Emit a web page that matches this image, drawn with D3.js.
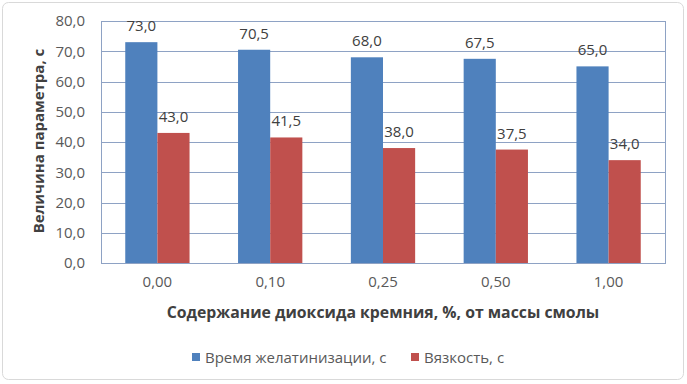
<!DOCTYPE html>
<html><head><meta charset="utf-8">
<script src="https://cdn.jsdelivr.net/npm/d3@7/dist/d3.min.js"></script>
<style>body{margin:0;background:#fff}svg{display:block}</style>
</head><body>
<svg id="c" width="687" height="384"></svg>
<script>
const categories = ["0,00","0,10","0,25","0,50","1,00"];
const seriesNames = ["Время желатинизации, с","Вязкость, с"];
const gelTime = [73.0, 70.5, 68.0, 67.5, 65.0];
const viscosity = [43.0, 41.5, 38.0, 37.5, 34.0];
const yTicks = [0,10,20,30,40,50,60,70,80];
const colors = ["#4f81bd","#c0504d"];

const svg = d3.select("#c");
const m = {l:101, r:665, t:21, b:263};
const FF = "Open Sans, sans-serif";
svg.append("rect").attr("x",2.5).attr("y",2.5).attr("width",681).attr("height",377)
  .attr("rx",6).attr("fill","#fff").attr("stroke","#d9d9d9");

const x = d3.scaleBand().domain(categories).range([m.l,m.r]).paddingInner(0.43).paddingOuter(0.215);
const xs = d3.scaleBand().domain([0,1]).range([0,x.bandwidth()]);
const y = d3.scaleLinear().domain([0,80]).range([m.b,m.t]);
const fmt = v => v.toFixed(1).replace(".",",");
const gridC = "#8ea2c4";

// gridlines
svg.append("g").selectAll("line").data(yTicks).join("line")
  .attr("x1",m.l).attr("x2",m.r).attr("y1",d=>Math.round(y(d))+0.5).attr("y2",d=>Math.round(y(d))+0.5)
  .attr("stroke",gridC).attr("stroke-width",1);
svg.append("rect").attr("x",m.l+0.5).attr("y",Math.round(y(80))+0.5).attr("width",m.r-m.l).attr("height",Math.round(y(0))-Math.round(y(80)))
  .attr("fill","none").attr("stroke",gridC);

// y axis
const yAxis = d3.axisLeft(y).tickValues(yTicks).tickFormat(fmt).tickSize(0).tickPadding(16);
const ya = svg.append("g").attr("transform",`translate(${m.l},0)`).call(yAxis);
ya.select(".domain").remove();
ya.selectAll("text").attr("font-family",FF).attr("font-size",15).attr("fill","#595959");

// x axis
const xAxis = d3.axisBottom(x).tickSize(0).tickPadding(13);
const xa = svg.append("g").attr("transform",`translate(0,${m.b})`).call(xAxis);
xa.select(".domain").remove();
xa.selectAll("text").attr("font-family",FF).attr("font-size",15).attr("fill","#595959");

const data = categories.map((c,i)=>({c, v:[gelTime[i], viscosity[i]]}));
const g = svg.append("g").selectAll("g").data(data).join("g").attr("transform",d=>`translate(${x(d.c)},0)`);
g.selectAll("rect").data(d=>d.v.map((v,k)=>({v,k}))).join("rect")
  .attr("x",d=>xs(d.k)).attr("width",xs.bandwidth())
  .attr("y",d=>y(d.v)).attr("height",d=>y(0)-y(d.v)).attr("fill",d=>colors[d.k]);
g.selectAll("text").data(d=>d.v.map((v,k)=>({v,k}))).join("text")
  .attr("x",d=>xs(d.k)+xs.bandwidth()/2).attr("y",d=>y(d.v)-11)
  .attr("text-anchor","middle").attr("font-family",FF).attr("font-size",15).attr("fill","#404040")
  .text(d=>fmt(d.v));

// axis titles
svg.append("text").attr("x",(m.l+m.r)/2).attr("y",318).attr("text-anchor","middle")
  .attr("font-family",FF).attr("font-weight","bold").attr("font-size",15.8).attr("fill","#404040")
  .text("Содержание диоксида кремния, %, от массы смолы");
svg.append("text").attr("transform",`translate(44,141) rotate(-90)`).attr("text-anchor","middle")
  .attr("font-family",FF).attr("font-weight","bold").attr("font-size",15).attr("fill","#404040")
  .text("Величина параметра, с");

// legend
const legX = [192, 411];
const lg = svg.append("g").selectAll("g").data(seriesNames).join("g").attr("transform",(d,i)=>`translate(${legX[i]},358)`);
lg.append("rect").attr("x",0).attr("y",-5).attr("width",8).attr("height",8).attr("fill",(d,i)=>colors[i]);
lg.append("text").attr("x",13).attr("y",5).attr("font-family",FF).attr("font-size",15).attr("fill","#595959").text(d=>d);
</script>
</body></html>
